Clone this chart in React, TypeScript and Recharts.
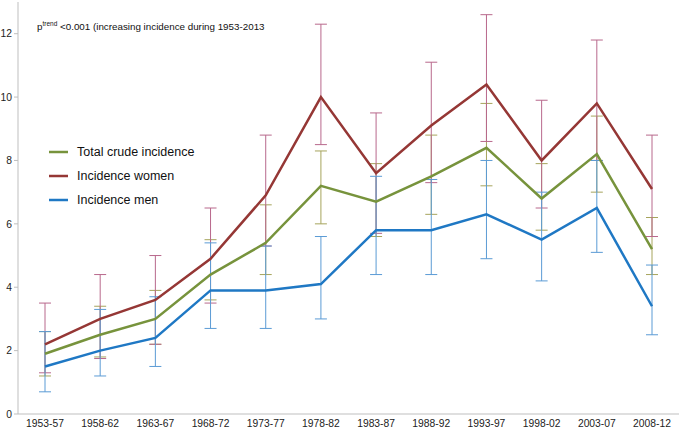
import React from 'react';
import { LineChart, Line, XAxis, YAxis, ErrorBar } from 'recharts';

const categories = ['1953-57', '1958-62', '1963-67', '1968-72', '1973-77', '1978-82', '1983-87', '1988-92', '1993-97', '1998-02', '2003-07', '2008-12'];

const totalIncidence = [1.9, 2.5, 3.0, 4.4, 5.4, 7.2, 6.7, 7.5, 8.4, 6.8, 8.2, 5.2];
const totalLower = [1.2, 1.8, 2.2, 3.6, 4.4, 6.0, 5.6, 6.3, 7.2, 5.8, 7.0, 4.4];
const totalUpper = [2.6, 3.4, 3.9, 5.5, 6.6, 8.3, 7.9, 8.8, 9.8, 7.9, 9.4, 6.2];

const womenIncidence = [2.2, 3.0, 3.6, 4.9, 6.9, 10.0, 7.6, 9.1, 10.4, 8.0, 9.8, 7.1];
const womenLower = [1.3, 1.75, 2.2, 3.5, 5.3, 8.5, 5.7, 7.3, 8.6, 6.5, 8.0, 5.6];
const womenUpper = [3.5, 4.4, 5.0, 6.5, 8.8, 12.3, 9.5, 11.1, 12.6, 9.9, 11.8, 8.8];

const menIncidence = [1.5, 2.0, 2.4, 3.9, 3.9, 4.1, 5.8, 5.8, 6.3, 5.5, 6.5, 3.4];
const menLower = [0.7, 1.2, 1.5, 2.7, 2.7, 3.0, 4.4, 4.4, 4.9, 4.2, 5.1, 2.5];
const menUpper = [2.6, 3.3, 3.7, 5.4, 5.3, 5.6, 7.5, 7.4, 8.0, 7.0, 8.0, 4.7];

const yTicks = [0, 2, 4, 6, 8, 10, 12];

const seriesNames = ['Total crude incidence', 'Incidence women', 'Incidence men'];

const data = categories.map((c, i) => ({
  period: c,
  total: totalIncidence[i],
  totalErr: [totalIncidence[i] - totalLower[i], totalUpper[i] - totalIncidence[i]],
  women: womenIncidence[i],
  womenErr: [womenIncidence[i] - womenLower[i], womenUpper[i] - womenIncidence[i]],
  men: menIncidence[i],
  menErr: [menIncidence[i] - menLower[i], menUpper[i] - menIncidence[i]],
}));

const FONT = '"Liberation Sans", Arial, sans-serif';

const COLORS = {
  total: '#77933C',
  women: '#953735',
  men: '#1F78C4',
  totalBar: '#A6A45C',
  womenBar: '#B8688C',
  menBar: '#5B9BD5',
};

const legendColors = [COLORS.total, COLORS.women, COLORS.men];

export default function App() {
  return (
    <div style={{ position: 'absolute', left: 0, top: 0, width: 679, height: 430, background: '#fff' }}>
      <LineChart width={679} height={430} data={data} margin={{ top: 2, right: 0, bottom: 0, left: 0 }}>
        <XAxis
          dataKey="period"
          interval={0}
          tickLine={false}
          tickSize={0}
          tickMargin={6}
          height={16}
          padding={{ left: 27, right: 27 }}
          axisLine={{ stroke: '#BFBFBF' }}
          tick={{ fontSize: 10.3, fontFamily: FONT, fill: '#222' }}
        />
        <YAxis
          domain={[0, 13]}
          ticks={yTicks}
          width={18}
          tickSize={4}
          tickMargin={2}
          axisLine={{ stroke: '#BFBFBF' }}
          tickLine={{ stroke: '#BFBFBF' }}
          tick={{ fontSize: 10.3, fontFamily: FONT, fill: '#222' }}
        />
        <Line dataKey="total" stroke="none" dot={false} activeDot={false} legendType="none" isAnimationActive={false}>
          <ErrorBar dataKey="totalErr" width={6} stroke={COLORS.totalBar} strokeWidth={1} direction="y" />
        </Line>
        <Line dataKey="women" stroke="none" dot={false} activeDot={false} legendType="none" isAnimationActive={false}>
          <ErrorBar dataKey="womenErr" width={6} stroke={COLORS.womenBar} strokeWidth={1} direction="y" />
        </Line>
        <Line dataKey="men" stroke="none" dot={false} activeDot={false} legendType="none" isAnimationActive={false}>
          <ErrorBar dataKey="menErr" width={6} stroke={COLORS.menBar} strokeWidth={1} direction="y" />
        </Line>
        <Line dataKey="total" name={seriesNames[0]} stroke={COLORS.total} strokeWidth={2.5} dot={false} activeDot={false} isAnimationActive={false} />
        <Line dataKey="women" name={seriesNames[1]} stroke={COLORS.women} strokeWidth={2.5} dot={false} activeDot={false} isAnimationActive={false} />
        <Line dataKey="men" name={seriesNames[2]} stroke={COLORS.men} strokeWidth={2.5} dot={false} activeDot={false} isAnimationActive={false} />
      </LineChart>
      <div style={{ position: 'absolute', left: 48, top: 140, fontFamily: FONT, fontSize: 12.5, color: '#111' }}>
        {seriesNames.map((name, i) => (
          <div key={name} style={{ display: 'flex', alignItems: 'center', height: 24 }}>
            <svg width={29} height={10} style={{ display: 'block' }}>
              <line x1={1} y1={5} x2={20} y2={5} stroke={legendColors[i]} strokeWidth={2.5} />
            </svg>
            <span>{name}</span>
          </div>
        ))}
      </div>
      <div
        style={{
          position: 'absolute',
          left: 37,
          top: 21,
          fontFamily: FONT,
          fontSize: 9.8,
          color: '#111',
          whiteSpace: 'nowrap',
        }}
      >
        p<sup style={{ fontSize: 6.5, verticalAlign: 'super', lineHeight: 0 }}>trend</sup> &lt;0.001 (increasing incidence during 1953-2013
      </div>
    </div>
  );
}
